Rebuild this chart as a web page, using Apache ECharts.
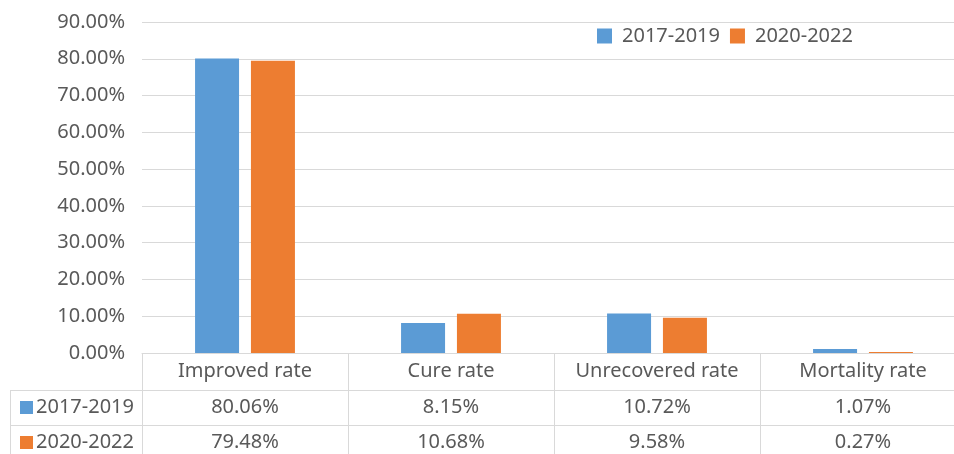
<!DOCTYPE html>
<html><head><meta charset="utf-8">
<script src="https://cdn.jsdelivr.net/npm/echarts@6/dist/echarts.min.js"></script>
<style>html,body{margin:0;padding:0;background:#fff;overflow:hidden;width:954px;height:454px}#c{width:966px;height:454px}</style>
</head><body><div id="c"></div>
<script>
const categories = ['Improved rate', 'Cure rate', 'Unrecovered rate', 'Mortality rate'];
const seriesNames = ['2017-2019', '2020-2022'];
const values2017 = [80.06, 8.15, 10.72, 1.07];
const values2020 = [79.48, 10.68, 9.58, 0.27];
const yMin = 0, yMax = 90, yInterval = 10;
const colors = ['#5B9BD5', '#ED7D31'];
const FONT = '"Noto Sans", "Open Sans", sans-serif';
const TXT = '#595959';
const LINE = '#d9d9d9';

const chart = echarts.init(document.getElementById('c'), null, {renderer: 'canvas'});
const fmt = v => v.toFixed(2) + '%';

chart.setOption({
  animation: false,
  backgroundColor: '#fff',
  textStyle: {fontFamily: FONT},
  grid: {left: 142, top: 22, right: 0, height: 331, containLabel: false},
  legend: {
    data: seriesNames,
    left: 597, top: 26, padding: 0,
    icon: 'rect', itemWidth: 15, itemHeight: 15, itemGap: 10,
    textStyle: {fontSize: 20, color: TXT, fontFamily: FONT, padding: [0, 0, 0, 5]}
  },
  xAxis: {
    type: 'category',
    data: categories,
    axisLine: {lineStyle: {color: LINE, width: 1}},
    axisTick: {show: false},
    axisLabel: {fontSize: 20, color: TXT, margin: 8, fontFamily: FONT, interval: 0}
  },
  yAxis: {
    type: 'value',
    min: yMin, max: yMax, interval: yInterval,
    axisLine: {show: false},
    axisTick: {show: false},
    splitLine: {lineStyle: {color: LINE, width: 1}},
    axisLabel: {fontSize: 20, color: TXT, margin: 17, fontFamily: FONT, formatter: v => fmt(v)}
  },
  series: [
    {name: seriesNames[0], type: 'bar', data: values2017, itemStyle: {color: colors[0]}, barWidth: 44, barGap: '27%'},
    {name: seriesNames[1], type: 'bar', data: values2020, itemStyle: {color: colors[1]}, barWidth: 44, barGap: '27%'}
  ]
});

// Data table below the chart, aligned to the category axis
const c0 = chart.convertToPixel({xAxisIndex: 0}, 0);
const c1 = chart.convertToPixel({xAxisIndex: 0}, 1);
const catW = c1 - c0;
const yBase = chart.convertToPixel({yAxisIndex: 0}, 0);
const headerH = 37, rowH = 35, tableLeft = 10;
const gridLeft = c0 - catW / 2;
const gridRight = gridLeft + catW * categories.length;
const els = [];
const hline = (x1, x2, y) => els.push({type: 'line', silent: true, shape: {x1, y1: Math.round(y) + 0.5, x2, y2: Math.round(y) + 0.5}, style: {stroke: LINE, lineWidth: 1}});
const vline = (x, y1, y2) => els.push({type: 'line', silent: true, shape: {x1: Math.round(x) + 0.5, y1, x2: Math.round(x) + 0.5, y2}, style: {stroke: LINE, lineWidth: 1}});
const r1 = yBase + headerH, r2 = r1 + rowH, r3 = r2 + rowH;
hline(tableLeft, gridRight, r1);
hline(tableLeft, gridRight, r2);
hline(tableLeft, gridRight, r3);
vline(tableLeft, r1, r3);
for (let i = 0; i <= categories.length; i++) vline(gridLeft + i * catW, yBase, r3);
const rows = [values2017, values2020];
rows.forEach((vals, r) => {
  const yc = r1 + rowH * r + rowH / 2;
  els.push({type: 'rect', silent: true, shape: {x: 20, y: Math.round(yc - 6.5), width: 13, height: 13}, style: {fill: colors[r]}});
  els.push({type: 'text', silent: true, x: 36, y: yc, style: {text: seriesNames[r], font: '20px ' + FONT, fill: TXT, textAlign: 'left', textVerticalAlign: 'middle'}});
  vals.forEach((v, i) => {
    els.push({type: 'text', silent: true, x: chart.convertToPixel({xAxisIndex: 0}, i), y: yc, style: {text: fmt(v), font: '20px ' + FONT, fill: TXT, textAlign: 'center', textVerticalAlign: 'middle'}});
  });
});
chart.setOption({graphic: {elements: els}});
</script>
</body></html>
